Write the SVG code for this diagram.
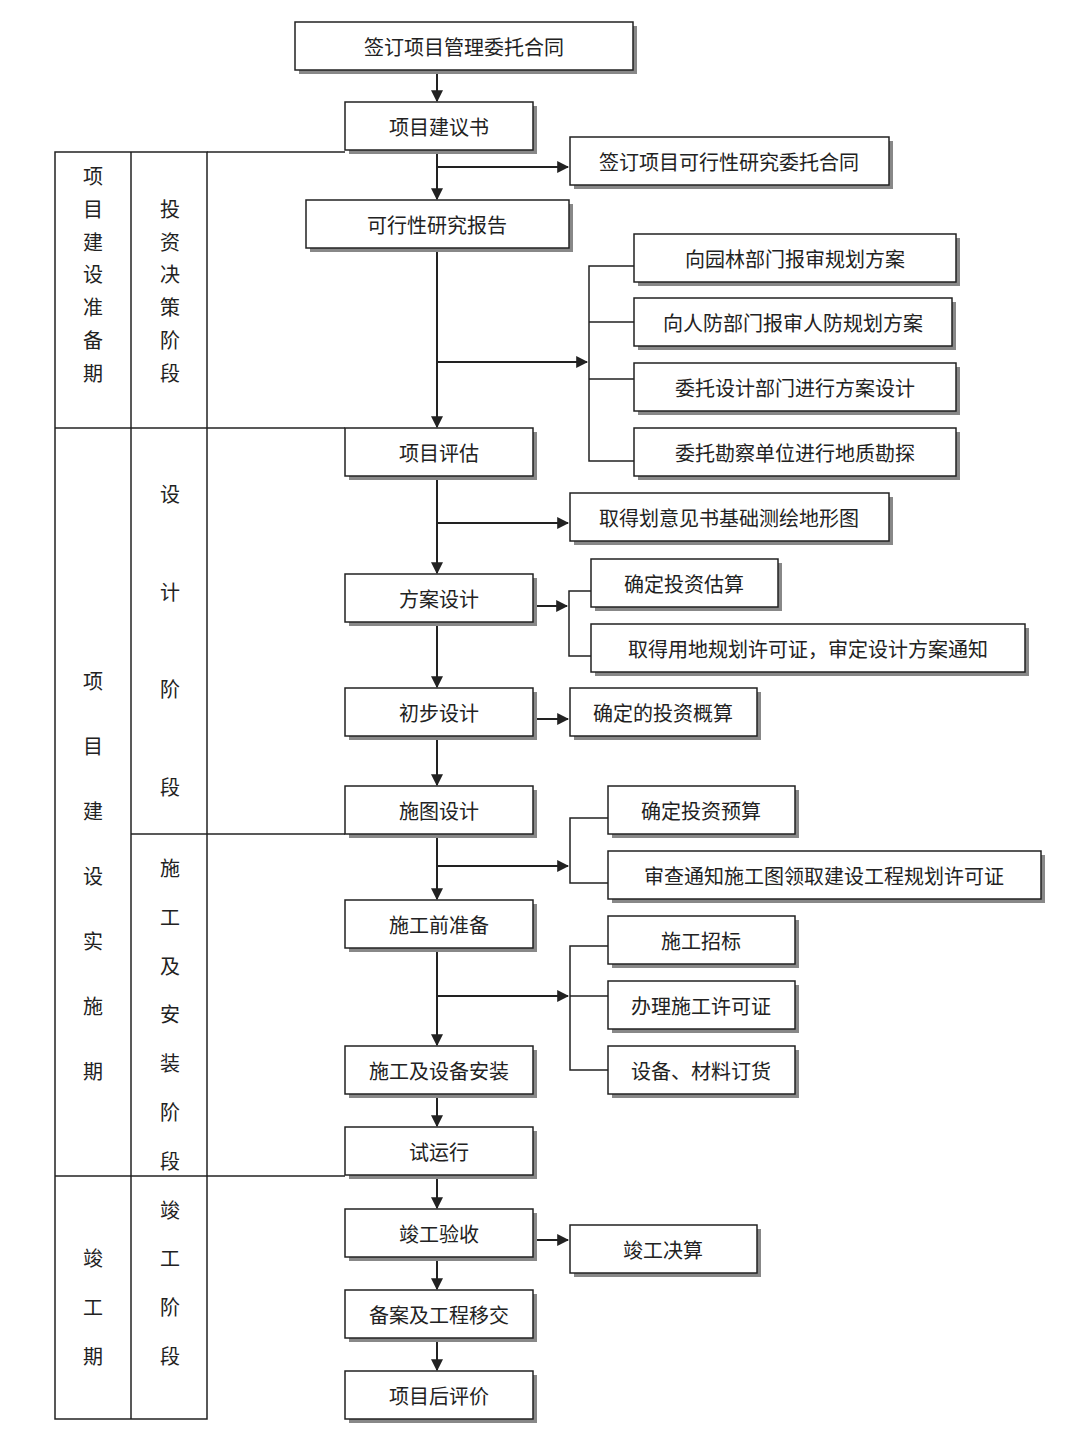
<svg xmlns="http://www.w3.org/2000/svg" width="1080" height="1440" viewBox="0 0 1080 1440">
<style>
.b{fill:#fff;stroke:#222;stroke-width:1.5}
.s{fill:#888}
text{font-family:"Noto Sans CJK SC","Noto Serif CJK SC",sans-serif;font-size:20px;fill:#222;text-anchor:middle;dominant-baseline:central}
.l{stroke:#222;stroke-width:2;fill:none}
.g{stroke:#222;stroke-width:1.5;fill:none}
</style>
<defs>
<marker id="a" viewBox="0 0 10 10" refX="9" refY="5" markerWidth="6" markerHeight="6" orient="auto"><path d="M0,0L10,5L0,10z" fill="#222"/></marker>
</defs>
<rect width="1080" height="1440" fill="#fff"/>
<g id="table" class="g">
<rect x="55" y="152" width="152" height="1267"/>
<line x1="131" y1="152" x2="131" y2="1419"/>
<line x1="207" y1="152" x2="345" y2="152"/>
<line x1="55" y1="428" x2="345" y2="428"/>
<line x1="131" y1="834" x2="345" y2="834"/>
<line x1="55" y1="1176" x2="345" y2="1176"/>
</g>
<g id="labels">
<text x="93" y="175">项</text><text x="93" y="208">目</text><text x="93" y="241">建</text><text x="93" y="273">设</text><text x="93" y="306">准</text><text x="93" y="339">备</text><text x="93" y="372">期</text>
<text x="170" y="208">投</text><text x="170" y="241">资</text><text x="170" y="273">决</text><text x="170" y="306">策</text><text x="170" y="339">阶</text><text x="170" y="372">段</text>
<text x="93" y="680">项</text><text x="93" y="745">目</text><text x="93" y="810">建</text><text x="93" y="875">设</text><text x="93" y="940">实</text><text x="93" y="1005">施</text><text x="93" y="1070">期</text>
<text x="170" y="493">设</text><text x="170" y="591">计</text><text x="170" y="688">阶</text><text x="170" y="786">段</text>
<text x="170" y="867">施</text><text x="170" y="916">工</text><text x="170" y="965">及</text><text x="170" y="1013">安</text><text x="170" y="1062">装</text><text x="170" y="1111">阶</text><text x="170" y="1160">段</text>
<text x="93" y="1257">竣</text><text x="93" y="1306">工</text><text x="93" y="1355">期</text>
<text x="170" y="1209">竣</text><text x="170" y="1257">工</text><text x="170" y="1306">阶</text><text x="170" y="1355">段</text>
</g>
<g id="connectors">
<line class="l" x1="437" y1="70" x2="437" y2="101" marker-end="url(#a)"/>
<line class="l" x1="437" y1="150" x2="437" y2="199" marker-end="url(#a)"/>
<line class="l" x1="437" y1="167" x2="568" y2="167" marker-end="url(#a)"/>
<line class="l" x1="437" y1="248" x2="437" y2="427" marker-end="url(#a)"/>
<line class="l" x1="437" y1="362" x2="587" y2="362" marker-end="url(#a)"/>
<path class="g" d="M634,266H589V461H634M589,322H634M589,379H634"/>
<line class="l" x1="437" y1="476" x2="437" y2="573" marker-end="url(#a)"/>
<line class="l" x1="437" y1="523" x2="568" y2="523" marker-end="url(#a)"/>
<line class="l" x1="533" y1="606" x2="567" y2="606" marker-end="url(#a)"/>
<path class="g" d="M591,591H569V656H591"/>
<line class="l" x1="437" y1="622" x2="437" y2="687" marker-end="url(#a)"/>
<line class="l" x1="533" y1="719" x2="568" y2="719" marker-end="url(#a)"/>
<line class="l" x1="437" y1="736" x2="437" y2="785" marker-end="url(#a)"/>
<line class="l" x1="437" y1="834" x2="437" y2="899" marker-end="url(#a)"/>
<line class="l" x1="437" y1="866" x2="568" y2="866" marker-end="url(#a)"/>
<path class="g" d="M608,818H570V883H608"/>
<line class="l" x1="437" y1="948" x2="437" y2="1045" marker-end="url(#a)"/>
<line class="l" x1="437" y1="996" x2="568" y2="996" marker-end="url(#a)"/>
<path class="g" d="M608,946H570V1070H608M570,996H608"/>
<line class="l" x1="437" y1="1094" x2="437" y2="1126" marker-end="url(#a)"/>
<line class="l" x1="437" y1="1175" x2="437" y2="1208" marker-end="url(#a)"/>
<line class="l" x1="533" y1="1240" x2="568" y2="1240" marker-end="url(#a)"/>
<line class="l" x1="437" y1="1257" x2="437" y2="1289" marker-end="url(#a)"/>
<line class="l" x1="437" y1="1338" x2="437" y2="1370" marker-end="url(#a)"/>
</g>
<g id="n1"><rect class="s" x="299" y="26" width="338" height="48"/><rect class="b" x="295" y="22" width="338" height="48"/><text x="464" y="46">签订项目管理委托合同</text></g>
<g id="n2"><rect class="s" x="349" y="106" width="188" height="48"/><rect class="b" x="345" y="102" width="188" height="48"/><text x="439" y="126">项目建议书</text></g>
<g id="n3"><rect class="s" x="574" y="141" width="319" height="48"/><rect class="b" x="570" y="137" width="319" height="48"/><text x="729" y="161">签订项目可行性研究委托合同</text></g>
<g id="n4"><rect class="s" x="310" y="204" width="263" height="48"/><rect class="b" x="306" y="200" width="263" height="48"/><text x="437" y="224">可行性研究报告</text></g>
<g id="n5"><rect class="s" x="638" y="238" width="322" height="48"/><rect class="b" x="634" y="234" width="322" height="48"/><text x="795" y="258">向园林部门报审规划方案</text></g>
<g id="n6"><rect class="s" x="638" y="302" width="318" height="48"/><rect class="b" x="634" y="298" width="318" height="48"/><text x="793" y="322">向人防部门报审人防规划方案</text></g>
<g id="n7"><rect class="s" x="638" y="367" width="322" height="48"/><rect class="b" x="634" y="363" width="322" height="48"/><text x="795" y="387">委托设计部门进行方案设计</text></g>
<g id="n8"><rect class="s" x="638" y="432" width="322" height="48"/><rect class="b" x="634" y="428" width="322" height="48"/><text x="795" y="452">委托勘察单位进行地质勘探</text></g>
<g id="n9"><rect class="s" x="349" y="432" width="188" height="48"/><rect class="b" x="345" y="428" width="188" height="48"/><text x="439" y="452">项目评估</text></g>
<g id="n10"><rect class="s" x="574" y="497" width="319" height="48"/><rect class="b" x="570" y="493" width="319" height="48"/><text x="729" y="517">取得划意见书基础测绘地形图</text></g>
<g id="n11"><rect class="s" x="349" y="578" width="188" height="48"/><rect class="b" x="345" y="574" width="188" height="48"/><text x="439" y="598">方案设计</text></g>
<g id="n12"><rect class="s" x="595" y="563" width="187" height="48"/><rect class="b" x="591" y="559" width="187" height="48"/><text x="684" y="583">确定投资估算</text></g>
<g id="n13"><rect class="s" x="595" y="628" width="434" height="48"/><rect class="b" x="591" y="624" width="434" height="48"/><text x="808" y="648">取得用地规划许可证，审定设计方案通知</text></g>
<g id="n14"><rect class="s" x="349" y="692" width="188" height="48"/><rect class="b" x="345" y="688" width="188" height="48"/><text x="439" y="712">初步设计</text></g>
<g id="n15"><rect class="s" x="574" y="692" width="187" height="48"/><rect class="b" x="570" y="688" width="187" height="48"/><text x="663" y="712">确定的投资概算</text></g>
<g id="n16"><rect class="s" x="349" y="790" width="188" height="48"/><rect class="b" x="345" y="786" width="188" height="48"/><text x="439" y="810">施图设计</text></g>
<g id="n17"><rect class="s" x="612" y="790" width="187" height="48"/><rect class="b" x="608" y="786" width="187" height="48"/><text x="701" y="810">确定投资预算</text></g>
<g id="n18"><rect class="s" x="612" y="855" width="433" height="48"/><rect class="b" x="608" y="851" width="433" height="48"/><text x="824" y="875">审查通知施工图领取建设工程规划许可证</text></g>
<g id="n19"><rect class="s" x="349" y="904" width="188" height="48"/><rect class="b" x="345" y="900" width="188" height="48"/><text x="439" y="924">施工前准备</text></g>
<g id="n20"><rect class="s" x="612" y="920" width="187" height="48"/><rect class="b" x="608" y="916" width="187" height="48"/><text x="701" y="940">施工招标</text></g>
<g id="n21"><rect class="s" x="612" y="985" width="187" height="48"/><rect class="b" x="608" y="981" width="187" height="48"/><text x="701" y="1005">办理施工许可证</text></g>
<g id="n22"><rect class="s" x="612" y="1050" width="187" height="48"/><rect class="b" x="608" y="1046" width="187" height="48"/><text x="701" y="1070">设备、材料订货</text></g>
<g id="n23"><rect class="s" x="349" y="1050" width="188" height="48"/><rect class="b" x="345" y="1046" width="188" height="48"/><text x="439" y="1070">施工及设备安装</text></g>
<g id="n24"><rect class="s" x="349" y="1131" width="188" height="48"/><rect class="b" x="345" y="1127" width="188" height="48"/><text x="439" y="1151">试运行</text></g>
<g id="n25"><rect class="s" x="349" y="1213" width="188" height="48"/><rect class="b" x="345" y="1209" width="188" height="48"/><text x="439" y="1233">竣工验收</text></g>
<g id="n26"><rect class="s" x="574" y="1229" width="187" height="48"/><rect class="b" x="570" y="1225" width="187" height="48"/><text x="663" y="1249">竣工决算</text></g>
<g id="n27"><rect class="s" x="349" y="1294" width="188" height="48"/><rect class="b" x="345" y="1290" width="188" height="48"/><text x="439" y="1314">备案及工程移交</text></g>
<g id="n28"><rect class="s" x="349" y="1375" width="188" height="48"/><rect class="b" x="345" y="1371" width="188" height="48"/><text x="439" y="1395">项目后评价</text></g>
</svg>
